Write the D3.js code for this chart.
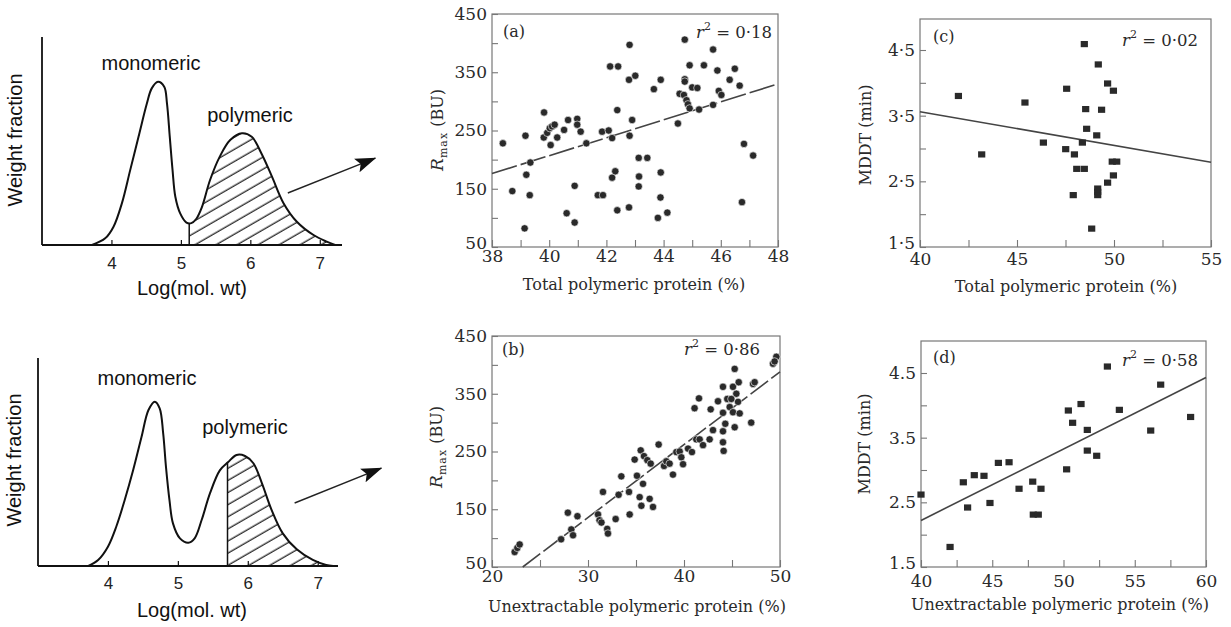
<!DOCTYPE html>
<html><head><meta charset="utf-8">
<script src="https://cdn.jsdelivr.net/npm/d3@7"></script>
<style>
body{margin:0;background:#fff;}
svg{display:block;}
</style></head><body>
<svg id="chart" width="1231" height="627"></svg>
<script>
// ---------- DATA ----------
// molecular weight distributions (log mol. wt vs weight fraction, arbitrary units)
const distTopMW = [3.72,3.91,4.03,4.15,4.27,4.39,4.51,4.58,4.67,4.76,4.80,4.84,4.88,4.92,4.99,5.08,5.15,5.22,5.30,5.42,5.56,5.71,5.88,6.02,6.16,6.31,6.48,6.67,6.91,7.10,7.22];
const distTopWF = [0,0.032,0.088,0.20,0.36,0.52,0.68,0.753,0.785,0.761,0.68,0.52,0.36,0.232,0.152,0.108,0.105,0.125,0.18,0.3125,0.425,0.505,0.537,0.52,0.44,0.33,0.20,0.112,0.048,0.016,0];
const distTopCut = 5.12;
const distBotMW = [3.72,3.86,4.00,4.12,4.24,4.36,4.48,4.58,4.67,4.74,4.79,4.83,4.88,4.93,5.03,5.15,5.24,5.34,5.46,5.60,5.72,5.84,5.96,6.08,6.20,6.34,6.50,6.70,6.93,7.12,7.22];
const distBotWF = [0,0.029,0.093,0.19,0.317,0.46,0.62,0.75,0.79,0.758,0.638,0.477,0.317,0.205,0.133,0.112,0.133,0.221,0.35,0.46,0.50,0.534,0.529,0.494,0.40,0.27,0.157,0.08,0.029,0.005,0];
const distBotCut = 5.71;
const mwTicks = [4,5,6,7];
const arrowTopFrom = [6.54,0.25], arrowTopTo = [7.80,0.418];
const arrowBotFrom = [6.67,0.303], arrowBotTo = [7.91,0.471];

// (a) Rmax vs total polymeric protein
const aX = [38.38,38.71,39.17,39.2,39.34,39.32,39.14,39.82,39.81,39.93,40.02,40.1,40.19,40.05,40.28,40.52,40.66,40.98,40.98,41.1,40.89,40.61,40.89,41.3,41.7,41.88,41.85,42.08,42.2,42.13,42.41,42.2,42.31,42.38,42.38,42.81,42.79,43.01,42.9,42.81,42.79,43.13,43.43,43.14,43.13,43.66,43.9,43.9,43.89,43.8,44.13,44.5,44.56,44.74,44.74,44.74,44.71,44.8,44.85,44.91,44.91,45.0,45.18,45.24,45.41,45.73,45.73,45.88,45.93,46.02,46.31,46.49,46.66,46.74,46.81,47.13];
const aY = [228,146,241,174,195,139,82,281,238,246,254,257,260,225,238,251,268,270,260,248,155,108,92,228,139,139,248,250,237,360,360,169,180,285,113,397,337,344,268,241,118,203,203,171,154,321,337,178,135,100,109,262,313,406,338,334,311,302,295,288,362,324,323,286,362,389,294,353,318,311,337,356,327,127,227,207];
const aFitX = [38,48], aFitY = [176,330];
// (b) Rmax vs unextractable polymeric protein
const bX = [22.36,22.64,22.88,27.2,27.9,28.9,28.26,28.44,31.04,31.2,31.4,32.0,32.08,31.56,32.88,33.19,33.47,34.27,34.34,35.1,34.86,35.49,35.83,36.18,36.53,35.38,35.73,35.56,36.42,36.77,37.36,37.92,38.16,38.5,38.85,39.2,39.55,39.72,39.9,40.42,40.83,41.28,41.63,41.98,41.1,41.56,42.78,42.67,43.02,43.54,44.06,44.06,44.06,44.06,44.13,44.51,44.76,45.1,45.28,45.45,45.1,45.63,45.8,45.28,45.7,47.0,47.19,47.36,49.27,49.62,49.44,44.3,44.93];
const bY = [76,83,89,98,144,138,115,105,141,131,127,116,108,180,133,175,207,180,141,208,236,252,242,235,229,171,194,156,168,154,262,225,233,229,210,249,250,240,228,255,249,271,271,261,325,342,323,271,287,337,362,317,285,266,251,341,327,362,393,350,318,336,316,292,370,300,367,370,402,414,406,298,341];
const bFitX = [23.2,50], bFitY = [50,388];
// (c) MDDT vs total polymeric protein
const cX = [41.98,43.18,45.41,46.36,47.56,47.51,47.96,48.08,47.9,48.47,48.54,48.59,48.37,48.47,48.85,49.11,49.19,49.36,49.16,49.16,49.16,49.67,49.97,49.67,49.97,49.91,50.14];
const cY = [3.80,2.91,3.70,3.09,3.91,2.99,2.91,2.69,2.29,4.59,3.60,3.30,3.09,2.69,1.78,3.20,4.28,3.59,2.39,2.34,2.29,3.99,3.88,2.48,2.59,2.80,2.80];
const cFitX = [40,55], cFitY = [3.56,2.79];
// (d) MDDT vs unextractable polymeric protein
const dX = [40.0,42.04,42.97,43.27,43.74,44.42,44.84,45.43,46.18,46.88,47.84,47.88,48.23,48.42,50.22,50.34,50.64,51.23,51.67,51.67,52.33,53.08,53.92,56.12,56.82,58.92];
const dY = [2.62,1.81,2.81,2.42,2.92,2.91,2.49,3.11,3.12,2.71,2.82,2.31,2.31,2.71,3.01,3.92,3.73,4.02,3.62,3.30,3.22,4.60,3.93,3.61,4.32,3.82];
const dFitX = [40,60], dFitY = [2.22,4.43];

// tick values and labels
const rmaxTicks = [50,100,150,200,250,300,350,400,450];
const rmaxLabels = [50,150,250,350,450];
const aXTicks = [38,39,40,41,42,43,44,45,46,47,48];
const aXLabels = [38,40,42,44,46,48];
const bXTicks = [20,25,30,35,40,45,50];
const bXLabels = [20,30,40,50];
const mddtTicks = [1.5,2,2.5,3,3.5,4,4.5];
const mddtLabels = [1.5,2.5,3.5,4.5];
const cXTicks = [40,42.5,45,47.5,50,52.5,55];
const cXLabels = [40,45,50,55];
const dXTicks = [40,42.5,45,47.5,50,52.5,55,57.5,60];
const dXLabels = [40,45,50,55,60];

// ---------- DRAW ----------
const svg = d3.select("#chart");
const defs = svg.append("defs");
const pat = defs.append("pattern").attr("id","hatch").attr("patternUnits","userSpaceOnUse")
  .attr("width",10).attr("height",10.5).attr("patternTransform","rotate(-30)");
pat.append("line").attr("x1",-1).attr("x2",11).attr("y1",5).attr("y2",5).attr("stroke","#111").attr("stroke-width",1.2);
defs.append("marker").attr("id","arrow").attr("viewBox","0 0 20 14").attr("refX",19).attr("refY",7)
  .attr("markerWidth",21).attr("markerHeight",15).attr("markerUnits","userSpaceOnUse").attr("orient","auto")
  .append("path").attr("d","M0,0 L20,7 L0,14 L4,7 Z").attr("fill","#111");

const sansFont = "'Liberation Sans', Arial, Helvetica, sans-serif";
const serifFont = "'DejaVu Serif', serif";
const ink = "#2a2a2a";

function drawDist(p) {
  const g = svg.append("g");
  const x = d3.scaleLinear().domain([3, p.xMax]).range([p.x0, p.x1]);
  const y = d3.scaleLinear().domain([0, 1]).range([p.yb, p.yt]);
  const pts = p.mw.map((m,i)=>[m, p.wf[i]]);
  const cv = d3.curveCatmullRom.alpha(0.5);
  const line = d3.line().x(d=>x(d[0])).y(d=>y(d[1])).curve(cv);
  const area = d3.area().x(d=>x(d[0])).y0(y(0)).y1(d=>y(d[1])).curve(cv);
  defs.append("clipPath").attr("id",p.id).append("rect")
    .attr("x",x(p.cut)).attr("y",0).attr("width",x(8)-x(p.cut)).attr("height",p.yb);
  g.append("path").attr("d",area(pts)).attr("fill","url(#hatch)").attr("clip-path",`url(#${p.id})`);
  const path = g.append("path").attr("d",line(pts)).attr("fill","none").attr("stroke","#111").attr("stroke-width",2);
  // find curve height at cut
  const node = path.node(), L = node.getTotalLength(), tx = x(p.cut);
  let lo = 0, hi = L;
  for (let i=0;i<40;i++){ const mid=(lo+hi)/2; if (node.getPointAtLength(mid).x < tx) lo=mid; else hi=mid; }
  const cy = node.getPointAtLength(lo).y;
  g.append("line").attr("x1",tx).attr("x2",tx).attr("y1",y(0)).attr("y2",cy).attr("stroke","#111").attr("stroke-width",1.5);
  // axes
  g.append("line").attr("x1",p.x0).attr("x2",p.x1).attr("y1",p.yb).attr("y2",p.yb).attr("stroke","#111").attr("stroke-width",1.8);
  g.append("line").attr("x1",p.x0).attr("x2",p.x0).attr("y1",p.yb).attr("y2",p.yt).attr("stroke","#111").attr("stroke-width",1.8);
  const ax = g.append("g").attr("transform",`translate(0,${p.yb})`)
    .call(d3.axisBottom(x).tickValues(mwTicks).tickSize(-5).tickPadding(p.tickPad).tickFormat(d3.format("d")));
  ax.select(".domain").remove();
  ax.selectAll("line").attr("stroke","#111").attr("stroke-width",1.2);
  ax.selectAll("text").attr("font-family",sansFont).attr("font-size",17).attr("fill","#222");
  // labels
  g.append("text").attr("x",p.monoX).attr("y",p.monoY).attr("text-anchor","middle").attr("font-family",sansFont).attr("font-size",20).attr("fill","#111").text("monomeric");
  g.append("text").attr("x",p.polyX).attr("y",p.polyY).attr("text-anchor","middle").attr("font-family",sansFont).attr("font-size",20).attr("fill","#111").text("polymeric");
  g.append("text").attr("x",p.xlabX).attr("y",p.xlabY).attr("text-anchor","middle").attr("font-family",sansFont).attr("font-size",20).attr("fill","#111").text("Log(mol. wt)");
  g.append("text").attr("transform",`translate(${p.ylabX},${p.ylabY}) rotate(-90)`).attr("text-anchor","middle").attr("font-family",sansFont).attr("font-size",20).attr("fill","#111").text("Weight fraction");
  // arrow
  g.append("line").attr("x1",x(p.arrFrom[0])).attr("y1",y(p.arrFrom[1])).attr("x2",x(p.arrTo[0])).attr("y2",y(p.arrTo[1]))
    .attr("stroke","#222").attr("stroke-width",1.4).attr("marker-end","url(#arrow)");
}

drawDist({id:"clipTop", mw:distTopMW, wf:distTopWF, cut:distTopCut, xMax:7.32, x0:42, x1:342, yb:245, yt:37, tickPad:12,
  monoX:151, monoY:70, polyX:250, polyY:122, xlabX:192, xlabY:295, ylabX:22, ylabY:140, arrFrom:arrowTopFrom, arrTo:arrowTopTo});
drawDist({id:"clipBot", mw:distBotMW, wf:distBotWF, cut:distBotCut, xMax:7.29, x0:38, x1:338, yb:566, yt:358, tickPad:11,
  monoX:147, monoY:385, polyX:245, polyY:434, xlabX:192, xlabY:617, ylabX:21, ylabY:460, arrFrom:arrowBotFrom, arrTo:arrowBotTo});

const axisColor = "#777";
function has(arr, v){ return arr.some(a=>Math.abs(a-v)<1e-9); }

function drawScatter(p) {
  const g = svg.append("g");
  const x = d3.scaleLinear().domain(p.xDom).range([p.x0, p.x1]);
  const y = d3.scaleLinear().domain(p.yDom).range([p.yb, p.yt]);
  g.append("rect").attr("x",p.x0).attr("y",p.boxTop).attr("width",p.x1-p.x0).attr("height",p.yb-p.boxTop)
    .attr("fill","none").attr("stroke",axisColor).attr("stroke-width",1.2);
  const xa = g.append("g").attr("transform",`translate(0,${p.yb})`)
    .call(d3.axisBottom(x).tickValues(p.xTicks).tickSize(-7).tickPadding(p.xPad).tickFormat(d=>has(p.xLabels,d)?p.xFmt(d):""));
  const ya = g.append("g").attr("transform",`translate(${p.x0},0)`)
    .call(d3.axisLeft(y).tickValues(p.yTicks).tickSize(-6).tickPadding(5).tickFormat(d=>has(p.yLabels,d)?p.yFmt(d):""));
  [xa,ya].forEach(a=>{
    a.select(".domain").remove();
    a.selectAll("line").attr("stroke",axisColor).attr("stroke-width",1.1);
    a.selectAll("text").attr("font-family",serifFont).attr("font-size",17).attr("fill",ink);
  });
  // lowest y label sits just above the x labels (as in the original, where they nearly touch)
  ya.selectAll(".tick text").filter(d=>Math.abs(d-p.yDom[0])<1e-9).attr("dy","0.1em");
  // fit line
  g.append("line").attr("x1",x(p.fitX[0])).attr("y1",y(p.fitY[0])).attr("x2",x(p.fitX[1])).attr("y2",y(p.fitY[1]))
    .attr("stroke","#444").attr("stroke-width",1.6).attr("stroke-dasharray",p.dash||null);
  // points
  const pts = p.xs.map((v,i)=>[v,p.ys[i]]);
  if (p.shape==="circle") {
    g.selectAll("circle.pt").data(pts).join("circle").attr("class","pt")
      .attr("cx",d=>x(d[0])).attr("cy",d=>y(d[1])).attr("r",3.7).attr("fill","#2a2a2a").attr("stroke","#fff").attr("stroke-width",0.6);
  } else {
    g.selectAll("rect.pt").data(pts).join("rect").attr("class","pt")
      .attr("x",d=>x(d[0])-3.6).attr("y",d=>y(d[1])-3.1).attr("width",7.2).attr("height",6.2).attr("fill","#2a2a2a");
  }
  // panel letter
  g.append("text").attr("x",p.letX).attr("y",p.letY).attr("font-family",serifFont).attr("font-size",16).attr("fill",ink).text(p.letter);
  // r^2
  const rt = g.append("text").attr("x",p.rX).attr("y",p.rY).attr("text-anchor","end").attr("font-family",serifFont).attr("font-size",16.5).attr("fill",ink);
  rt.append("tspan").attr("font-style","italic").text("r");
  rt.append("tspan").attr("font-size",11).attr("dy","-0.75em").text("2");
  rt.append("tspan").attr("dy","0.5em").text(" = 0" + "\u00B7" + p.r2);
  // x title
  g.append("text").attr("x",p.xtX).attr("y",p.xtY).attr("text-anchor","middle").attr("font-family",serifFont).attr("font-size",16).attr("fill",ink).text(p.xTitle);
  // y title
  const yt = g.append("text").attr("transform",`translate(${p.ytX},${p.ytY}) rotate(-90)`).attr("text-anchor","middle")
    .attr("font-family",serifFont).attr("font-size",16).attr("fill",ink);
  if (p.yTitle==="R") {
    yt.append("tspan").attr("font-style","italic").attr("font-size",17).text("R");
    yt.append("tspan").attr("font-size",11).attr("dy","0.35em").attr("letter-spacing",1).text("max");
    yt.append("tspan").attr("dy","-0.25em").text(" (BU)");
  } else {
    yt.text("MDDT (min)");
  }
}

const fmtInt = d3.format("d");
const fmtDot = d => d3.format(".1f")(d).replace(".","\u00B7");
const fmtPer = d3.format(".1f");

drawScatter({x0:492,x1:778,yb:247,yt:14,boxTop:14,xDom:[38,48],yDom:[50,450],xTicks:aXTicks,xLabels:aXLabels,yTicks:rmaxTicks,yLabels:rmaxLabels,
  xFmt:fmtInt,yFmt:fmtInt,xPad:3,xs:aX,ys:aY,fitX:aFitX,fitY:aFitY,dash:"26,4",shape:"circle",letter:"(a)",letX:503,letY:37,rX:772,rY:38,r2:"18",
  xTitle:"Total polymeric protein (%)",xtX:634,xtY:290,yTitle:"R",ytX:443,ytY:130});
drawScatter({x0:492,x1:780,yb:567,yt:336,boxTop:336,xDom:[20,50],yDom:[50,450],xTicks:bXTicks,xLabels:bXLabels,yTicks:rmaxTicks,yLabels:rmaxLabels,
  xFmt:fmtInt,yFmt:fmtInt,xPad:3,xs:bX,ys:bY,fitX:bFitX,fitY:bFitY,dash:"22,4",shape:"circle",letter:"(b)",letX:502,letY:355,rX:760,rY:355,r2:"86",
  xTitle:"Unextractable polymeric protein (%)",xtX:637,xtY:612,yTitle:"R",ytX:442,ytY:447});
drawScatter({x0:920,x1:1211,yb:247,yt:50,boxTop:19,xDom:[40,55],yDom:[1.5,4.5],xTicks:cXTicks,xLabels:cXLabels,yTicks:mddtTicks,yLabels:mddtLabels,
  xFmt:fmtInt,yFmt:fmtDot,xPad:6,xs:cX,ys:cY,fitX:cFitX,fitY:cFitY,shape:"square",letter:"(c)",letX:933,letY:42,rX:1198,rY:46,r2:"02",
  xTitle:"Total polymeric protein (%)",xtX:1066,xtY:292,yTitle:"M",ytX:871,ytY:135});
drawScatter({x0:921,x1:1206,yb:567,yt:373,boxTop:341,xDom:[40,60],yDom:[1.5,4.5],xTicks:dXTicks,xLabels:dXLabels,yTicks:mddtTicks,yLabels:mddtLabels,
  xFmt:fmtInt,yFmt:fmtPer,xPad:8,xs:dX,ys:dY,fitX:dFitX,fitY:dFitY,shape:"square",letter:"(d)",letX:933,letY:363,rX:1198,rY:366,r2:"58",
  xTitle:"Unextractable polymeric protein (%)",xtX:1060,xtY:610,yTitle:"M",ytX:870,ytY:444});
</script>
</body></html>
